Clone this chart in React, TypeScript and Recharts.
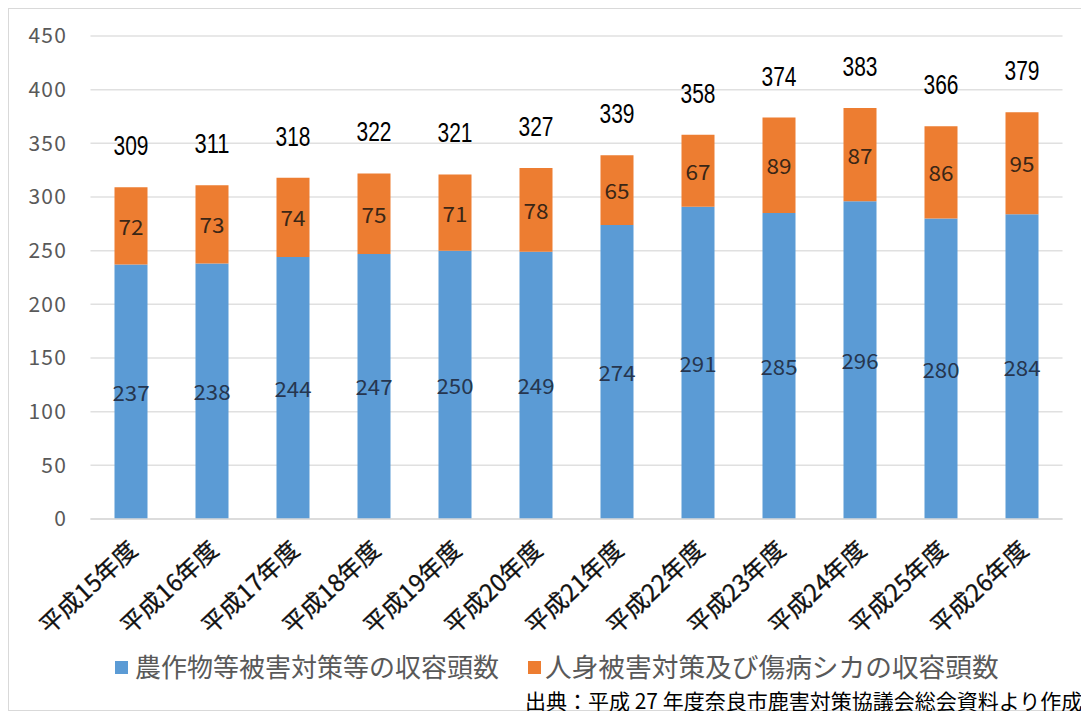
import { Bar, BarChart, CartesianGrid, LabelList, XAxis, YAxis } from "recharts";

const categories = [
  "平成15年度", "平成16年度", "平成17年度", "平成18年度", "平成19年度", "平成20年度",
  "平成21年度", "平成22年度", "平成23年度", "平成24年度", "平成25年度", "平成26年度",
];
const cropDamage = [237, 238, 244, 247, 250, 249, 274, 291, 285, 296, 280, 284];
const humanInjury = [72, 73, 74, 75, 71, 78, 65, 67, 89, 87, 86, 95];
const yTicks = [0, 50, 100, 150, 200, 250, 300, 350, 400, 450];

const BLUE = "#5b9bd5";
const ORANGE = "#ed7d31";
const JP = "'Noto Sans CJK JP', 'Noto Sans', sans-serif";

const rows = categories.map((name, i) => ({
  name,
  crop: cropDamage[i],
  human: humanInjury[i],
  total: cropDamage[i] + humanInjury[i],
}));

function XTick({ x, y, payload }: any) {
  return (
    <g transform={`translate(${x + 8},${y + 25}) rotate(-43)`}>
      <text
        x={0}
        y={0}
        textAnchor="end"
        fontSize={24}
        fill="#111"
        stroke="#111"
        strokeWidth={0.3}
        fontFamily={JP}
      >
        {payload.value}
      </text>
    </g>
  );
}

// segment value in the middle of the bar piece
function InnerLabel(color: string, len: number) {
  return (p: any) => (
    <text
      x={p.x + p.width / 2}
      y={p.y + p.height / 2}
      textAnchor="middle"
      dominantBaseline="central"
      fontSize={21}
      textLength={len}
      lengthAdjust="spacingAndGlyphs"
      fill={color}
      fontFamily={JP}
    >
      {p.value}
    </text>
  );
}

// total floats above the stack
function TotalLabel(p: any) {
  return (
    <text
      x={p.x + p.width / 2}
      y={p.y - 41}
      textAnchor="middle"
      dominantBaseline="central"
      fontSize={27}
      textLength={35}
      lengthAdjust="spacingAndGlyphs"
      fill="#000"
      fontFamily="'Liberation Sans Narrow', 'Liberation Sans', sans-serif"
    >
      {p.value}
    </text>
  );
}

export default function App() {
  return (
    <div
      style={{
        position: "relative",
        width: 1074,
        height: 703,
        border: "1px solid #d9d9d9",
        boxSizing: "border-box",
        background: "#fff",
      }}
    >
      <BarChart
        width={1072}
        height={640}
        data={rows}
        margin={{ top: 27, right: 18.5, bottom: 0, left: 0 }}
        barSize={33}
      >
        <CartesianGrid vertical={false} stroke="#e0e0e0" strokeWidth={1.5} />
        <XAxis
          dataKey="name"
          height={130}
          interval={0}
          tickLine={false}
          axisLine={{ stroke: "#d9d9d9", strokeWidth: 1.5 }}
          tick={<XTick />}
        />
        <YAxis
          width={81.5}
          domain={[0, 450]}
          ticks={yTicks}
          tickLine={false}
          axisLine={false}
          tickMargin={17.5}
          tick={{ fill: "#595959", fontSize: 21, fontFamily: JP, letterSpacing: 1.2 }}
        />
        <Bar dataKey="crop" stackId="a" fill={BLUE} isAnimationActive={false}>
          <LabelList dataKey="crop" content={InnerLabel("#26364f", 37)} />
        </Bar>
        <Bar dataKey="human" stackId="a" fill={ORANGE} isAnimationActive={false}>
          <LabelList dataKey="human" content={InnerLabel("#3a2616", 25)} />
          <LabelList dataKey="total" content={TotalLabel} />
        </Bar>
      </BarChart>

      <div style={{ position: "absolute", left: 106, top: 652, width: 13, height: 13, background: BLUE }} />
      <div
        style={{
          position: "absolute",
          left: 126,
          top: 644,
          fontSize: 26,
          lineHeight: "26px",
          color: "#595959",
          fontFamily: JP,
          whiteSpace: "nowrap",
        }}
      >
        農作物等被害対策等の収容頭数
      </div>
      <div style={{ position: "absolute", left: 519, top: 652, width: 13, height: 13, background: ORANGE }} />
      <div
        style={{
          position: "absolute",
          left: 536,
          top: 644,
          fontSize: 26.7,
          lineHeight: "26px",
          color: "#595959",
          fontFamily: JP,
          whiteSpace: "nowrap",
        }}
      >
        人身被害対策及び傷病シカの収容頭数
      </div>
      <div
        style={{
          position: "absolute",
          left: 516,
          top: 680,
          fontSize: 21,
          lineHeight: "22px",
          color: "#000",
          fontFamily: JP,
          whiteSpace: "nowrap",
        }}
      >
        出典：平成 27 年度奈良市鹿害対策協議会総会資料より作成
      </div>
    </div>
  );
}
